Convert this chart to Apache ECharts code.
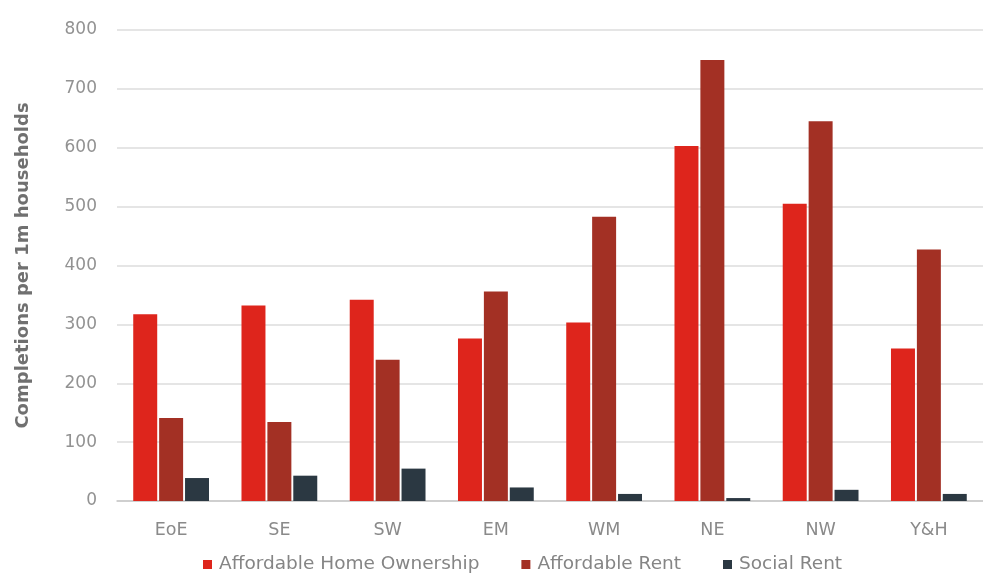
<!DOCTYPE html>
<html><head><meta charset="utf-8">
<script src="https://cdn.jsdelivr.net/npm/echarts@6/dist/echarts.min.js"></script>
<style>html,body{margin:0;padding:0;background:#fff}#c{width:983px;height:578px}</style>
</head><body><div id="c"></div>
<script>
var categories = ['EoE','SE','SW','EM','WM','NE','NW','Y&H'];
var affordableHomeOwnership = [317, 332, 342, 276, 303, 603, 505, 259];
var affordableRent = [141, 134, 240, 356, 483, 749, 645, 427];
var socialRent = [39, 43, 55, 23, 12, 5, 19, 12];
var yTicks = [0, 100, 200, 300, 400, 500, 600, 700, 800];

var chart = echarts.init(document.getElementById('c'));
var font = '"DejaVu Sans", sans-serif';
chart.setOption({
  animation: false,
  grid: {left: 117, right: -7, top: 30, bottom: 77},
  legend: {
    bottom: -1, left: 198, itemWidth: 9, itemHeight: 9, itemGap: 42,
    icon: 'rect',
    textStyle: {color: '#858585', fontSize: 18.5, fontFamily: font, padding: [0, 0, 0, 2]}
  },
  xAxis: {
    type: 'category', data: categories,
    axisLine: {lineStyle: {color: '#c8c8c8', width: 1.5}},
    axisTick: {show: false},
    axisLabel: {color: '#8a8a8a', fontSize: 17.5, fontFamily: font, margin: 20}
  },
  yAxis: {
    type: 'value', min: yTicks[0], max: yTicks[yTicks.length-1], interval: 100,
    name: 'Completions per 1m households', nameLocation: 'middle', nameGap: 85,
    nameTextStyle: {color: '#707070', fontSize: 18, fontWeight: 'bold', fontFamily: font},
    axisLine: {show: false}, axisTick: {show: false},
    axisLabel: {color: '#929292', fontSize: 17, fontFamily: font, margin: 20},
    splitLine: {lineStyle: {color: '#dcdcdc', width: 1.5}}
  },
  series: [
    {name: 'Affordable Home Ownership', type: 'bar', data: affordableHomeOwnership,
     itemStyle: {color: '#de251c'}, barGap: '8%', barCategoryGap: '30%'},
    {name: 'Affordable Rent', type: 'bar', data: affordableRent,
     itemStyle: {color: '#a33024'}},
    {name: 'Social Rent', type: 'bar', data: socialRent,
     itemStyle: {color: '#2b3842'}}
  ]
});
</script></body></html>
